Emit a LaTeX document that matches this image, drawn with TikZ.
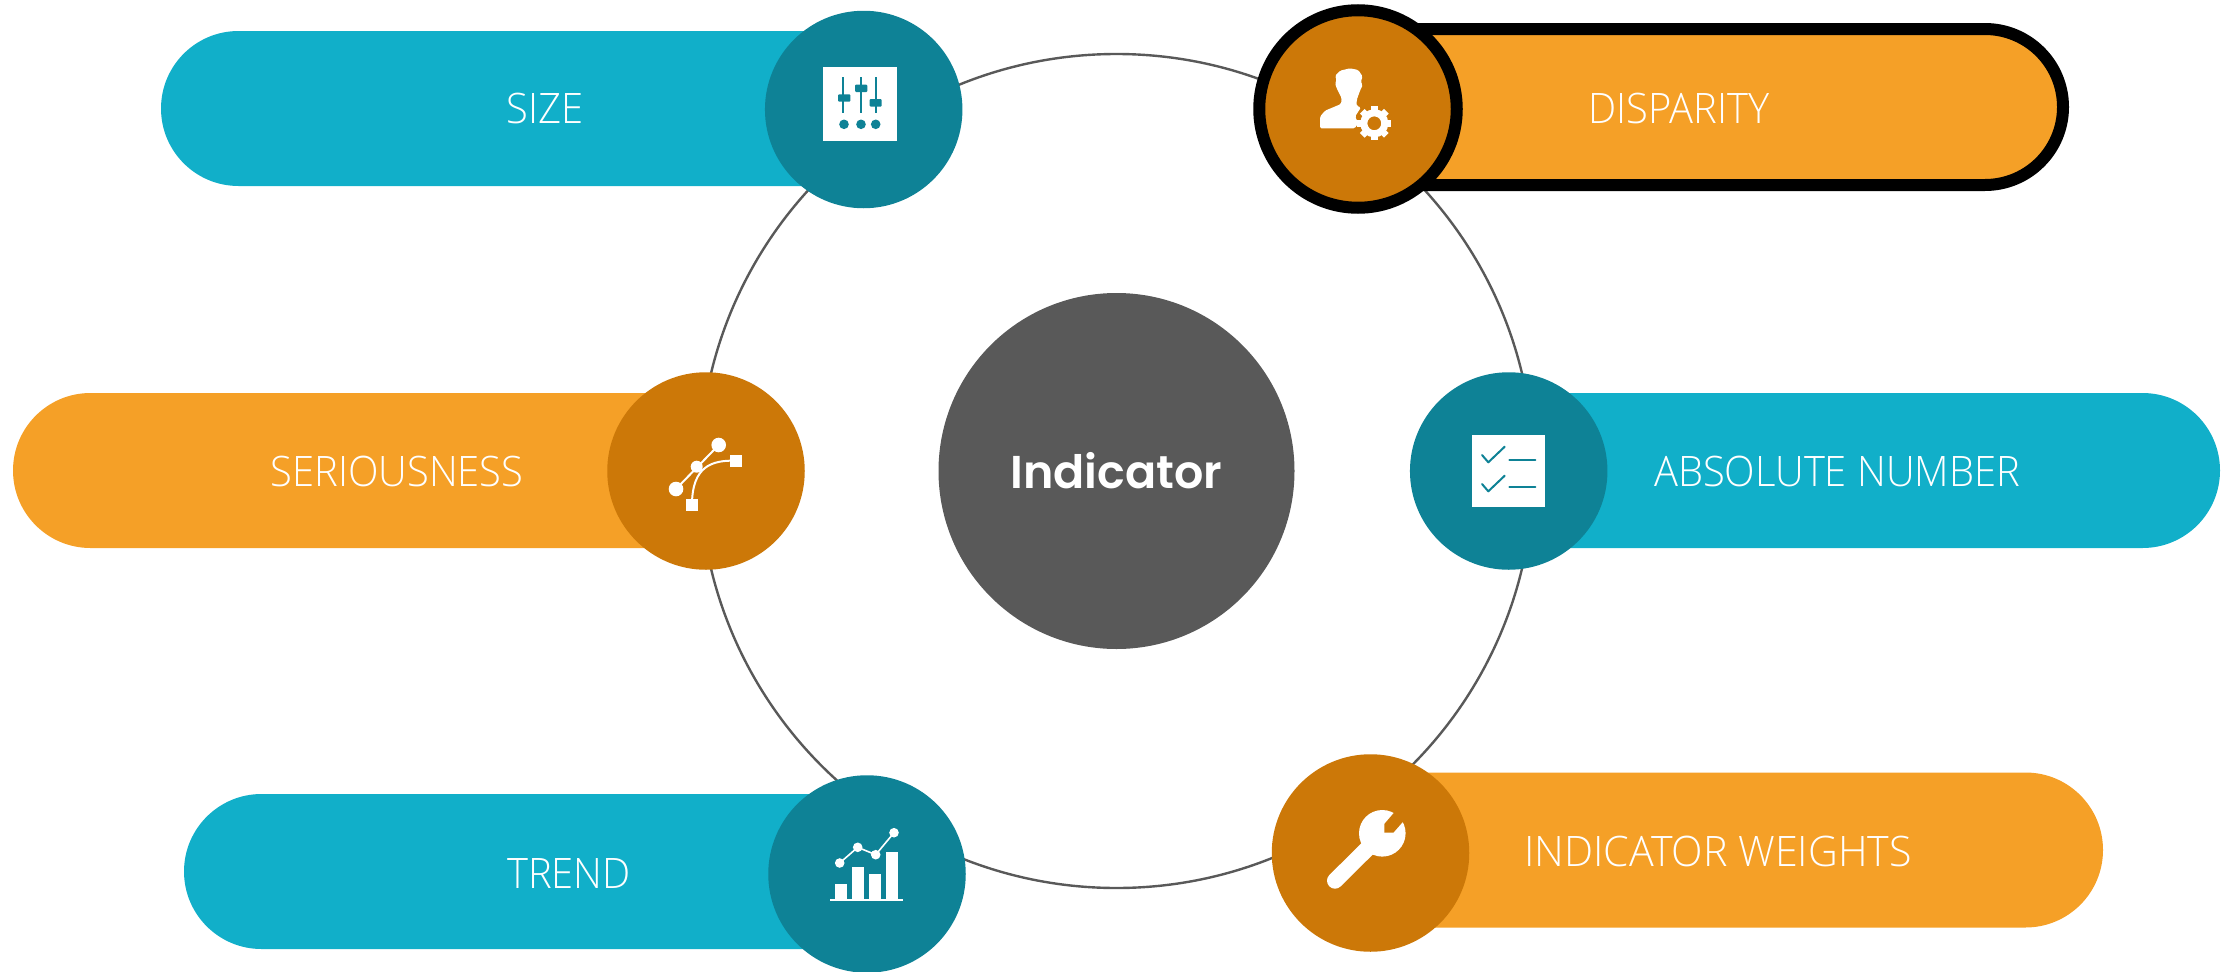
\documentclass[tikz,border=0pt]{standalone}
\usepackage{fontspec}
\setmainfont{Open Sans Light}
\newfontfamily\labelfont{Open Sans Light}[FakeStretch=0.95]
\newfontfamily\widelabelfont{Open Sans Light}[FakeStretch=0.98]
\newfontfamily\hubfont{Poppins SemiBold}
\definecolor{tealbar}{HTML}{11AFC9}
\definecolor{tealdark}{HTML}{0E8296}
\definecolor{orangebar}{HTML}{F5A027}
\definecolor{orangedark}{HTML}{CC7808}
\definecolor{hubgrey}{HTML}{595959}
\tikzset{
  pill/.style={rounded corners=77.5pt,minimum height=155pt,inner sep=0pt,outer sep=0pt,anchor=west,draw=none},
  disc/.style={circle,minimum size=197.5pt,inner sep=0pt,outer sep=0pt,draw=none},
  lab/.style={text=white,font=\labelfont\fontsize{42pt}{42pt}\selectfont,inner sep=0pt,anchor=center}
}
\begin{document}
\begin{tikzpicture}[x=1pt,y=-1pt]
\useasboundingbox (0,0) rectangle (2236,972);
\node[circle,draw=hubgrey,line width=2.4pt,minimum size=834pt,inner sep=0pt,outer sep=0pt] (ring) at (1116.5,471) {};
\node[pill,fill=tealbar,minimum width=720pt] (sizebar) at (161,108.5) {};
\node[pill,fill=orangebar,minimum width=740pt] (seriousbar) at (13,470.5) {};
\node[pill,fill=tealbar,minimum width=720pt] (trendbar) at (184,871.5) {};
\node[pill,fill=orangebar,minimum width=763pt] (weightsbar) at (1340,850) {};
\node[pill,fill=tealbar,minimum width=750pt] (absbar) at (1470,470.5) {};
\node[pill,fill=orangebar,draw=black,line width=12pt,minimum width=733pt,minimum height=156pt,rounded corners=78pt] (dispbar) at (1330,107) {};
\node[disc,fill=tealdark] (sizedisc) at (863.7,109.5) {};
\node[disc,fill=orangedark,draw=black,line width=12pt] (dispdisc) at (1358,109) {};
\node[disc,fill=orangedark] (seriousdisc) at (706,471) {};
\node[disc,fill=tealdark] (absdisc) at (1508.7,471) {};
\node[disc,fill=tealdark] (trenddisc) at (867,874) {};
\node[disc,fill=orangedark] (weightsdisc) at (1370.5,853) {};
\node[circle,fill=hubgrey,minimum size=356pt,inner sep=0pt,outer sep=0pt] (hub) at (1116.5,471) {};
\node[text=white,font=\hubfont\fontsize{46pt}{46pt}\selectfont,inner sep=0pt] (hublab) at (1116.5,471) {Indicator};
\node[lab] (l1) at (545,108.5) {SIZE};
\node[lab] (l2) at (1679,108.5) {DISPARITY};
\node[lab] (l3) at (397,471) {SERIOUSNESS};
\node[lab] (l4) at (1837,471) {ABSOLUTE NUMBER};
\node[lab] (l5) at (569,873) {TREND};
\node[lab,font=\widelabelfont\fontsize{42pt}{42pt}\selectfont] (l6) at (1718,851) {INDICATOR WEIGHTS};
% size icon
\fill[white] (823.3,67.3) rectangle (896.7,140.7);
\begin{scope}[tealdark]
\fill (842.3,77.3) rectangle (844.3,112.7);
\fill (860,77.3) rectangle (862,112.7);
\fill (874.7,77.3) rectangle (876.7,112.7);
\fill[rounded corners=1pt] (838,94.3) rectangle (850.3,101.7);
\fill[rounded corners=1pt] (855,84.7) rectangle (867.3,92);
\fill[rounded corners=1pt] (869.7,99) rectangle (881.7,106.7);
\fill (844,124.3) circle (4.8);
\fill (861,124.3) circle (4.8);
\fill (875.7,124.3) circle (4.8);
\end{scope}
% disparity icon
\begin{scope}[white]
\fill[rounded corners=1.5pt] (1320,128.3) -- (1320,116.7) -- (1325,110.7) -- (1341,104) -- (1341.7,98.3) -- (1336.7,88.3) -- (1335,83.3) -- (1336.7,80) -- (1335,76) -- (1340,70.7) -- (1350,68.3) -- (1358.3,70) -- (1362.7,76.7) -- (1360.7,81.7) -- (1362.7,85) -- (1360,90.7) -- (1356.7,100) -- (1356.7,106) -- (1361,107.3) -- (1355,116.7) -- (1358.3,122.7) -- (1355,128.3) -- cycle;
\draw[line width=7pt] (1374.3,123.3) circle (10.5);
\foreach \a in {0,45,...,315}
  \fill[rotate around={\a:(1374.3,123.3)}] (1371,106.3) rectangle (1377.6,112);
\end{scope}
% bezier icon
\begin{scope}[white]
\fill (718.7,445) circle (7.3);
\fill (676,489) circle (7.3);
\fill (696.7,466.7) circle (6);
\fill (729.7,455) rectangle (742.3,467);
\fill (686,498.7) rectangle (698.3,511);
\draw[line width=2pt] (676,489) -- (718.7,445);
\draw[line width=2pt] (736,460.7) .. controls (712,460) and (692,466) .. (692,505);
\end{scope}
% checklist icon
\fill[white] (1472.3,434.7) rectangle (1545,507.3);
\begin{scope}[tealdark,line width=2pt,line cap=round,line join=round]
\draw (1482,455) -- (1488.3,462.3) -- (1504.7,446.7);
\draw (1482,484) -- (1488.3,491.3) -- (1504.7,475.7);
\draw (1509.3,460.3) -- (1535.3,460.3);
\draw (1509.3,486.7) -- (1535.3,486.7);
\end{scope}
% trend icon
\begin{scope}[white]
\fill (835.3,884) rectangle (847.3,898.7);
\fill (852.3,866.7) rectangle (864.3,898.7);
\fill (869.3,874) rectangle (881.3,898.7);
\fill (886.3,852) rectangle (898.3,898.7);
\fill (830.3,898.7) rectangle (903,901);
\fill (839.7,863) circle (4.8);
\fill (857.7,847.3) circle (4.8);
\fill (875.7,854.7) circle (4.8);
\fill (894,832.7) circle (4.8);
\draw[line width=1.6pt] (839.7,863) -- (857.7,847.3) -- (875.7,854.7) -- (894,832.7);
\end{scope}
% wrench icon
\fill[white] (1382.3,833.3) circle (23.3);
\draw[white,line width=16pt,line cap=round] (1335,880.7) -- (1372,844);
\fill[orangedark] (1394,812.7) -- (1384.3,824) -- (1384.3,832.7) -- (1393.3,832.7) -- (1402.7,822) -- (1412,808) -- (1400,802) -- cycle;
\end{tikzpicture}
\end{document}
